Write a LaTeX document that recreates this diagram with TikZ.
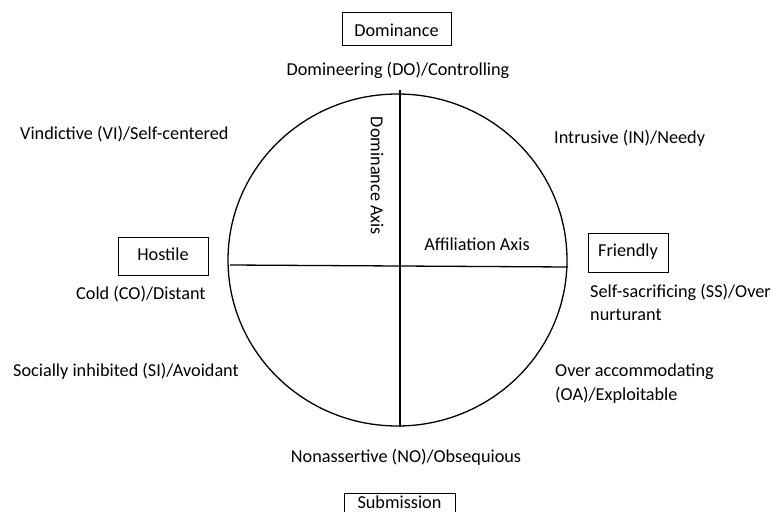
\documentclass[tikz,border=0pt]{standalone}
\usepackage{fontspec}
\setmainfont{Carlito}
\begin{document}
\begin{tikzpicture}[x=1bp,y=-1bp,
  lbl/.style={inner sep=0pt, font=\fontsize{18.3}{21}\selectfont, text height=12.5bp, text depth=4bp},
  boxlbl/.style={draw, line width=0.9bp, minimum width=#1, minimum height=34bp, inner sep=0pt},
  axis/.style={line width=1.3bp}]
\useasboundingbox (0,0) rectangle (772,512);
\begin{scope}
\clip (0,0) rectangle (772,512);
% circle
\draw[line width=1.3bp] (397.5,260) ellipse [x radius=169.5, y radius=166];
\coordinate (vt) at (400,90);
\coordinate (vb) at (400,427);
\coordinate (hl) at (230,265);
\coordinate (hr) at (568,267);
\draw[axis] (vt) -- (vb);
\draw[axis] (hl) -- (hr);
% boxes
\node[boxlbl=109bp, minimum height=33bp] (dom) at (396.5,28.7) {};
\node[boxlbl=90bp, minimum height=38bp] (hos) at (163,256) {};
\node[boxlbl=80bp, minimum height=39bp] (fri) at (628,252.5) {};
\node[boxlbl=111bp] (sub) at (399.5,510) {};
\end{scope}
% labels
\node[lbl] (domt) at (396.5,32.3) {Dominance};
\node[lbl] (host) at (hos) {Hostile};
\node[lbl] (frit) at (fri) {Friendly};
\node[lbl] (subt) at (399.5,504.5) {Submission};
\node[lbl] (do) at (398,71.5) {Domineering (DO)/Controlling};
\node[lbl, anchor=west] (vi) at (20,135) {Vindictive (VI)/Self-centered};
\node[lbl, anchor=west] (in) at (554,139) {Intrusive (IN)/Needy};
\node[lbl, rotate=-90] (dax) at (375,176) {Dominance Axis};
\node[lbl] (aax) at (477,246) {Affiliation Axis};
\node[lbl, anchor=west] (co) at (76,295) {Cold (CO)/Distant};
\node[lbl, anchor=west] (ss1) at (590,293) {Self-sacrificing (SS)/Over};
\node[lbl, anchor=west] (ss2) at (590,316) {nurturant};
\node[lbl, anchor=west] (si) at (13,372) {Socially inhibited (SI)/Avoidant};
\node[lbl, anchor=west] (oa1) at (555,372) {Over accommodating};
\node[lbl, anchor=west] (oa2) at (555,396) {(OA)/Exploitable};
\node[lbl] (no) at (406,458) {Nonassertive (NO)/Obsequious};
\end{tikzpicture}
\end{document}
